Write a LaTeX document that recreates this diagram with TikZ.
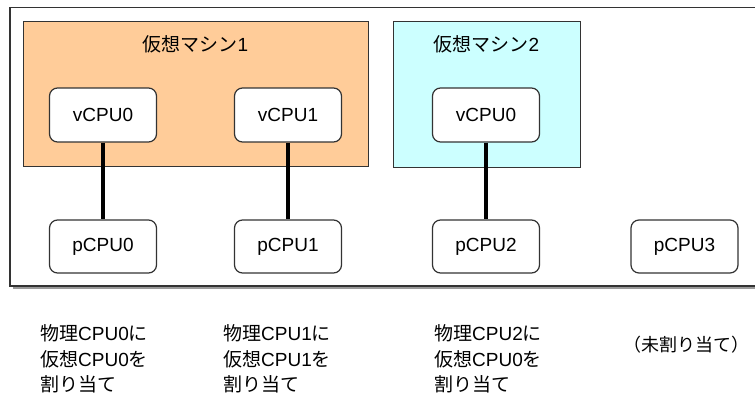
\documentclass[tikz,border=0pt]{standalone}
\usepackage{fontspec}
\setmainfont{Liberation Sans}
\newfontfamily\jp{Noto Sans CJK JP}
\newcommand{\J}[1]{{\jp #1}}
\definecolor{vmorange}{HTML}{FFCC99}
\definecolor{vmcyan}{HTML}{CCFFFF}
\definecolor{edgegray}{HTML}{333333}
\begin{document}
\begin{tikzpicture}[x=1pt,y=-1pt,
  cpu/.style={draw=edgegray,line width=1.2pt,fill=white,rounded corners=8pt,
    minimum width=107pt,minimum height=54pt,inner sep=0pt,
    font=\fontsize{19}{22}\selectfont},
  vmbox/.style={draw=edgegray,line width=1.2pt,inner sep=0pt},
  vmtitle/.style={inner sep=0pt,font=\fontsize{19}{22}\selectfont},
  link/.style={line width=4pt,black},
  note/.style={inner sep=0pt,align=left,anchor=west,
    font=\fontsize{19}{25.5}\selectfont}]
\useasboundingbox (0,0) rectangle (755,396);
\fill[white] (0,0) rectangle (755,396);
% shadow + outer host box
\node[fill=black!40,minimum width=770pt,minimum height=278pt,inner sep=0pt,anchor=north west] (hostshadow) at (13,11) {};
\node[draw=edgegray,line width=1.5pt,fill=white,minimum width=770pt,minimum height=278pt,inner sep=0pt,anchor=north west] (host) at (9,7) {};
% virtual machines
\node[vmbox,fill=vmorange,minimum width=345pt,minimum height=145pt,anchor=north west] (vm1) at (23,21) {};
\node[vmbox,fill=vmcyan,minimum width=187pt,minimum height=146pt,anchor=north west] (vm2) at (393,21) {};
\node[vmtitle] (vm1t) at (195.5,44) {\J{仮想マシン}1};
\node[vmtitle] (vm2t) at (486.5,44) {\J{仮想マシン}2};
% cpus
\node[cpu] (v10) at (103,115) {vCPU0};
\node[cpu] (v11) at (288,115) {vCPU1};
\node[cpu] (v20) at (486,115) {vCPU0};
\node[cpu,minimum height=53pt] (p0) at (103,246.5) {pCPU0};
\node[cpu,minimum height=53pt] (p1) at (288,246.5) {pCPU1};
\node[cpu,minimum height=53pt] (p2) at (486,246.5) {pCPU2};
\node[cpu,minimum height=53pt] (p3) at (684.5,246.5) {pCPU3};
% links
\draw[link] (v10.south) -- (p0.north);
\draw[link] (v11.south) -- (p1.north);
\draw[link] (v20.south) -- (p2.north);
% notes
\node[note] (n0) at (40,359) {\J{物理}CPU0\J{に}\\\J{仮想}CPU0\J{を}\\\J{割り当て}};
\node[note] (n1) at (223,359) {\J{物理}CPU1\J{に}\\\J{仮想}CPU1\J{を}\\\J{割り当て}};
\node[note] (n2) at (434,359) {\J{物理}CPU2\J{に}\\\J{仮想}CPU0\J{を}\\\J{割り当て}};
\node[note,font=\fontsize{18}{22}\selectfont] (n3) at (623,345) {\J{（未割り当て）}};
\end{tikzpicture}
\end{document}
